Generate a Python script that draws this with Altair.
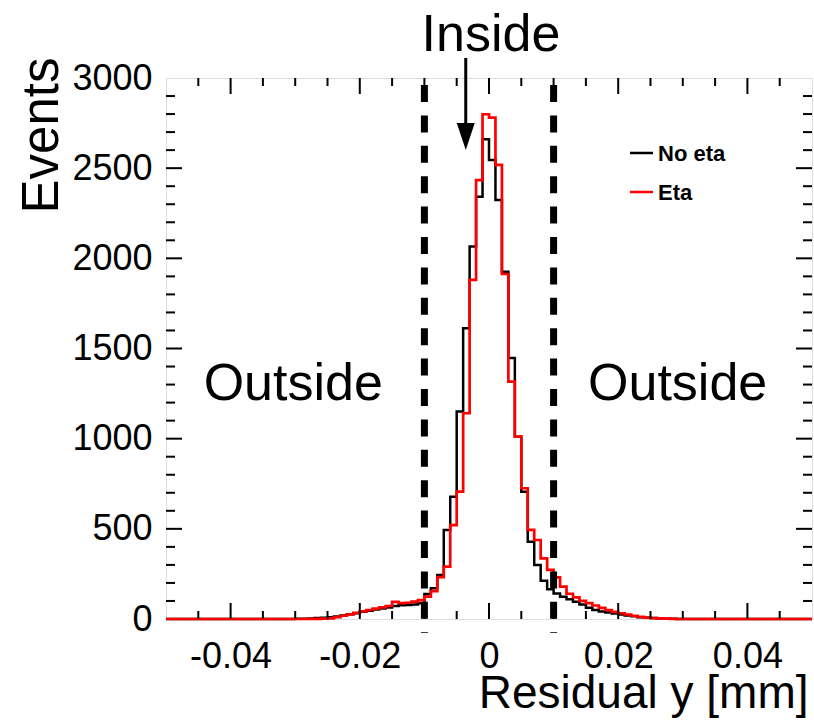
import altair as alt
import numpy as np
import pandas as pd

# ---- data -------------------------------------------------------------
bin_lo = -0.05
bin_w = 0.001
n_bins = 100

# counts per bin (bins of width 0.001 from -0.05 to 0.05)
no_eta = [0] * 20 + [1, 2, 3, 5, 7, 10, 14, 20, 26, 32,
                     40, 46, 52, 58, 64, 72, 76, 78, 80, 88,
                     139, 170, 244, 494, 678, 1150, 1612, 2065, 2342, 2660,
                     2545, 2323, 1925, 1447, 1011, 706, 429, 300, 212, 165,
                     142, 124, 110, 96, 80, 62, 50, 42, 36, 30,
                     25, 20, 15, 10, 7, 5, 3, 2, 1] + [0] * 21
eta = [0] * 20 + [0, 0, 1, 1, 2, 4, 10, 18, 26, 34,
                  42, 50, 57, 64, 72, 95, 88, 90, 96, 105,
                  124, 155, 232, 290, 521, 706, 1141, 1880, 2434, 2799,
                  2780, 2518, 1913, 1316, 1011, 725, 494, 438, 336, 272,
                  231, 179, 140, 120, 100, 88, 75, 62, 50, 40,
                  32, 25, 18, 12, 8, 5, 3, 2, 1] + [0] * 21

series_names = ["No eta", "Eta"]
series_colors = ["black", "#ff0000"]

x_labels = [-0.04, -0.02, 0.0, 0.02, 0.04]
x_minor = [-0.045, -0.04, -0.035, -0.03, -0.025, -0.02, -0.015, -0.01, -0.005, 0.0,
           0.005, 0.01, 0.015, 0.02, 0.025, 0.03, 0.035, 0.04, 0.045]
y_labels = [0, 500, 1000, 1500, 2000, 2500, 3000]
y_minor = list(range(100, 3000, 100))

cut_x = [-0.01, 0.01]
annot_text = ["Inside", "Outside", "Outside"]
annot_x = [0.0003, -0.0303, 0.0292]
annot_y = [3238, 1303, 1303]
arrow_x = [-0.0036]

# ---- build tables -----------------------------------------------------
edges = np.round(bin_lo + bin_w * np.arange(n_bins + 1), 4)


def step_table(counts, name):
    vals = list(counts) + [counts[-1]]
    return pd.DataFrame({"x": edges, "y": vals, "series": name})


df_black = step_table(no_eta, series_names[0])
df_red = step_table(eta, series_names[1])

W, H = 646, 541
FONT = "Liberation Sans"
xs = alt.Scale(domain=[-0.05, 0.05], nice=False, zero=False)
ys = alt.Scale(domain=[0, 3000], nice=False, zero=False)

x_axis = alt.Axis(values=x_labels, grid=False, domain=False, ticks=False,
                  labelExpr="datum.value == 0 ? '0' : (datum.value < 0 ? '-' : '') + format(abs(datum.value), '.2f')",
                  labelFontSize=36, labelFont=FONT, labelColor="black", labelPadding=20,
                  labelFlush=False, labelOverlap=False,
                  title="Residual y [mm]", titleFont=FONT, titleFontSize=46,
                  titleFontWeight="normal", titleColor="black",
                  titleX=642, titleY=74, titleAlign="right", titleBaseline="middle")
y_axis = alt.Axis(values=y_labels, format="d", grid=False, domain=False, ticks=False,
                  labelFontSize=36, labelFont=FONT, labelColor="black", labelPadding=14,
                  labelFlush=False, labelOverlap=False,
                  title="Events", titleFont=FONT, titleFontSize=51,
                  titleFontWeight="normal", titleColor="black",
                  titleX=-124, titleY=57, titleAlign="center", titleBaseline="middle",
                  titleAngle=270)

black_line = alt.Chart(df_black).mark_line(
    interpolate="step-after", color=series_colors[0], strokeWidth=2.5
).encode(x=alt.X("x:Q", scale=xs, axis=x_axis), y=alt.Y("y:Q", scale=ys, axis=y_axis))

red_line = alt.Chart(df_red).mark_line(
    interpolate="step-after", color=series_colors[1], strokeWidth=2.7
).encode(x=alt.X("x:Q", scale=xs), y=alt.Y("y:Q", scale=ys))

# inward ticks on all four sides
df_xmaj = pd.DataFrame({"v": x_labels})
df_xmin = pd.DataFrame({"v": [v for v in x_minor if v not in x_labels]})
df_ymaj = pd.DataFrame({"v": y_labels[1:-1]})
df_ymin = pd.DataFrame({"v": [v for v in y_minor if v not in y_labels]})


def xticks(df, length):
    bottom = alt.Chart(df).mark_rule(color="black", strokeWidth=2).encode(
        x=alt.X("v:Q", scale=xs), y=alt.value(H), y2=alt.value(H - length))
    top = alt.Chart(df).mark_rule(color="black", strokeWidth=2).encode(
        x=alt.X("v:Q", scale=xs), y=alt.value(0), y2=alt.value(length))
    return bottom + top


def yticks(df, length):
    left = alt.Chart(df).mark_rule(color="black", strokeWidth=2).encode(
        y=alt.Y("v:Q", scale=ys), x=alt.value(0), x2=alt.value(length))
    right = alt.Chart(df).mark_rule(color="black", strokeWidth=2).encode(
        y=alt.Y("v:Q", scale=ys), x=alt.value(W), x2=alt.value(W - length))
    return left + right


ticks = xticks(df_xmaj, 16) + xticks(df_xmin, 8) + yticks(df_ymaj, 16) + yticks(df_ymin, 9)

cuts = alt.Chart(pd.DataFrame({"x": cut_x})).mark_rule(
    color="black", strokeWidth=7, strokeDash=[17, 13.4]
).encode(x=alt.X("x:Q", scale=xs), y=alt.value(7), y2=alt.value(555))

annots = alt.Chart(pd.DataFrame({"t": annot_text, "x": annot_x, "y": annot_y})).mark_text(
    font=FONT, fontSize=52, color="black", align="center", baseline="middle"
).encode(x=alt.X("x:Q", scale=xs), y=alt.Y("y:Q", scale=ys), text="t:N")

df_arrow = pd.DataFrame({"x": arrow_x})
shaft = alt.Chart(df_arrow).mark_rule(color="black", strokeWidth=3).encode(
    x=alt.X("x:Q", scale=xs), y=alt.value(-20), y2=alt.value(47))
head = alt.Chart(df_arrow).mark_point(
    shape="M-1,-1.5L1,-1.5L0,1.5Z", size=324, filled=True, color="black", opacity=1
).encode(x=alt.X("x:Q", scale=xs), y=alt.value(58.5))

# legend drawn by hand, one row per series
legend_layers = []
for i, (name, col) in enumerate(zip(series_names, series_colors)):
    row_df = pd.DataFrame({"name": [name]})
    ypix = 75 + 39 * i
    legend_layers.append(alt.Chart(row_df).mark_rule(strokeWidth=2.5, color=col).encode(
        x=alt.value(464), x2=alt.value(487), y=alt.value(ypix)))
    legend_layers.append(alt.Chart(row_df).mark_text(
        font=FONT, fontSize=22, fontWeight="bold", color="black", align="left", baseline="middle"
    ).encode(x=alt.value(492), y=alt.value(ypix + 1), text="name:N"))

chart = alt.layer(
    black_line, red_line, cuts, ticks, annots, shaft, head, *legend_layers
).properties(
    width=W, height=H,
    padding={"left": 166, "top": 78, "right": 2, "bottom": 103},
    autosize=alt.AutoSizeParams(type="none"),
).configure_view(stroke="black", strokeWidth=2).configure(background="white")

chart.save("out.html", embed_options={"renderer": "svg", "actions": False})
